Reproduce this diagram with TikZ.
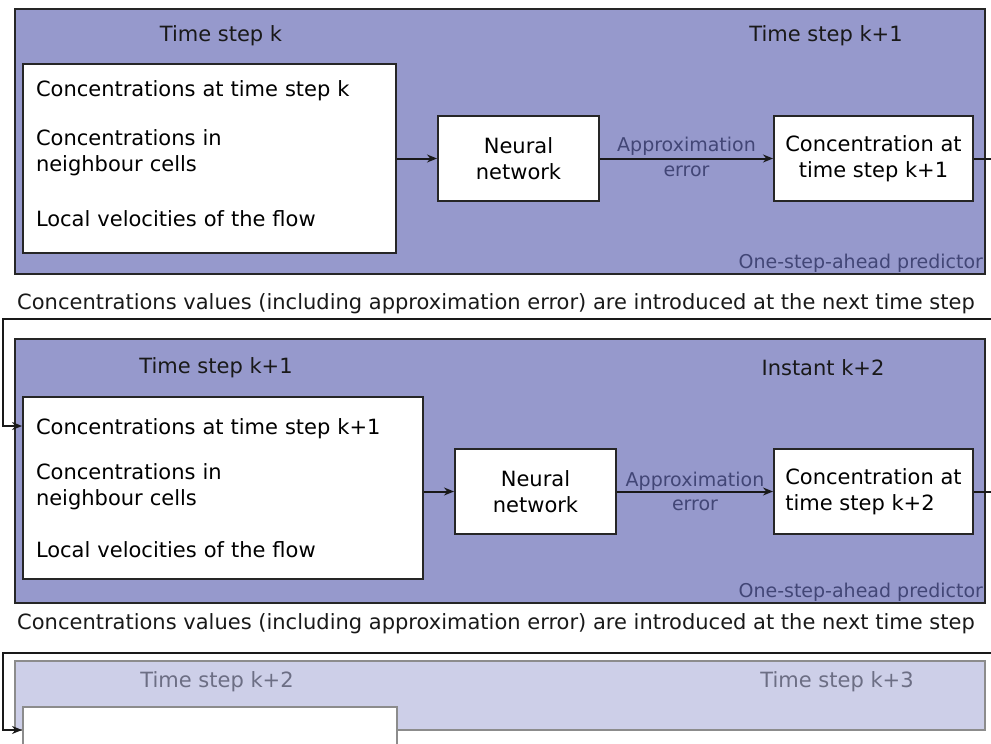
\documentclass[tikz,border=0pt]{standalone}
\usepackage{fontspec}
\setmainfont{DejaVu Sans}
\usepackage{xcolor}
\usetikzlibrary{arrows.meta, positioning}

\definecolor{panelblue}{RGB}{150,153,204}
\definecolor{panelfade}{RGB}{205,207,232}
\definecolor{notegray}{RGB}{66,70,118}
\definecolor{fadegray}{RGB}{108,110,132}

\begin{document}
\begin{tikzpicture}[x=1pt, y=-1pt, >=Stealth, node distance=40pt, line width=2pt]

% --- Style Definitions ---
% Predictor panels
\tikzstyle{panel_box}=[rectangle, draw=black!85, fill=panelblue, inner sep=0pt, minimum width=970pt]
\tikzstyle{fade_box}=[panel_box, draw=black!45, fill=panelfade]
% Inputs of the predictor
\tikzstyle{input_box}=[rectangle, draw=black!85, fill=white, align=left, inner xsep=13pt, font=\fontsize{21}{26}\selectfont]
% Network and output blocks
\tikzstyle{block_node}=[rectangle, draw=black!85, fill=white, minimum width=161pt, minimum height=85pt, align=center, font=\fontsize{21}{26}\selectfont]
\tikzstyle{out_node}=[block_node, minimum width=199pt]
% Texts
\tikzstyle{step_label}=[font=\fontsize{21}{26}\selectfont, text=black!90]
\tikzstyle{fade_label}=[step_label, text=fadegray]
\tikzstyle{note_label}=[font=\fontsize{19}{22}\selectfont, text=notegray]
\tikzstyle{caption_text}=[font=\fontsize{21}{26}\selectfont, text=black!90]
% Arrows
\tikzstyle{flow_arrow}=[-{Stealth[length=10pt, width=8pt]}, line width=2pt, black!90]

\useasboundingbox (0,0) rectangle (991,744);
\clip (0,0) rectangle (991,744);


% --- 1. Time step k ---

\node[panel_box, minimum height=265pt] (panel1) at (500,141.5) {};
\node[step_label] (t1_in) at (221,36) {Time step k};
\node[step_label] (t1_out) at (826,36) {Time step k+1};

\node[input_box, text width=347pt, minimum height=189pt] (in1) at (209.5,158.5) {Concentrations at time step k\\[23pt]
Concentrations in\\ neighbour cells\\[29pt]
Local velocities of the flow\rule[-10pt]{0pt}{1pt}};
\node[block_node, right=40pt of in1] (nn1) {Neural\\network};
\node[out_node, right=173pt of nn1] (out1) {Concentration at\\time step k+1};

\draw[flow_arrow] (in1) -- (nn1);
\draw[flow_arrow] (nn1) -- node[note_label, above=-1pt] {Approximation} node[note_label, below=3pt] {error} (out1);

\node[note_label, anchor=south east, inner sep=2pt] (pred1) at (panel1.south east) {One-step-ahead predictor};

% Feedback to the next step
\node[caption_text] (cap1) at (496,304) {Concentrations values (including approximation error) are introduced at the next time step};


% --- 2. Time step k+1 ---

\node[panel_box, minimum height=264pt] (panel2) at (500,471) {};
\node[step_label] (t2_in) at (216,368) {Time step k+1};
\node[step_label] (t2_out) at (823,368) {Instant k+2};

\node[input_box, text width=374pt, minimum height=182pt] (in2) at (223,488) {Concentrations at time step k+1\\[19pt]
Concentrations in\\ neighbour cells\\[26pt]
Local velocities of the flow};
\node[block_node, right=30pt of in2, yshift=-3.5pt] (nn2) {Neural\\network};
\node[out_node, align=left, right=156pt of nn2] (out2) {Concentration at\\time step k+2};

\draw[flow_arrow] (in2.east |- nn2) -- (nn2);
\draw[flow_arrow] (nn2) -- node[note_label, above=-3pt] {Approximation} node[note_label, below=4pt] {error} (out2);

\node[note_label, anchor=south east, inner sep=2pt] (pred2) at (panel2.south east) {One-step-ahead predictor};

\node[caption_text] (cap2) at (496,624) {Concentrations values (including approximation error) are introduced at the next time step};


% --- 3. Time step k+2 (faded) ---

\node[fade_box, minimum height=69pt] (panel3) at (500,695.5) {};
\node[fade_label] (t3_in) at (217,682) {Time step k+2};
\node[fade_label] (t3_out) at (837,682) {Time step k+3};

\node[input_box, draw=black!45, minimum width=374pt, minimum height=189pt] (in3) at (210,801.5) {};


% --- Feedback loops ---

\coordinate (fb1_r) at (998,319);
\coordinate (fb1_l) at (3,319);
\coordinate (in2_port) at ([yshift=-30pt]in2.north west);
\draw[flow_arrow] (out1.east) -| (fb1_r) -- (fb1_l) |- (in2_port);

\coordinate (fb2_r) at (998,653);
\coordinate (fb2_l) at (3,653);
\coordinate (in3_port) at ([yshift=-24pt]in3.north west);
\draw[flow_arrow] (out2.east) -| (fb2_r) -- (fb2_l) |- (in3_port);

\end{tikzpicture}
\end{document}
